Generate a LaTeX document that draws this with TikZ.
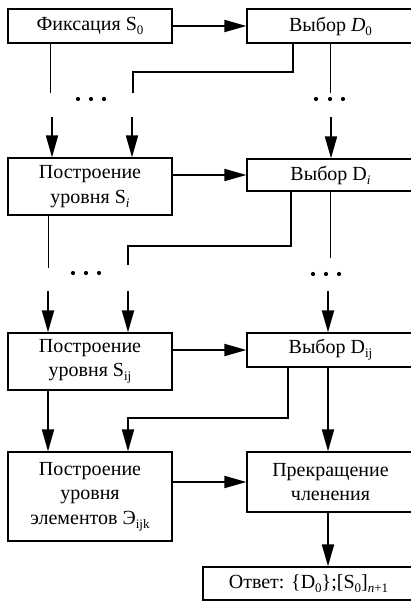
\documentclass[tikz,border=0pt]{standalone}
\usepackage{fontspec}
\setmainfont{Liberation Serif}
\usetikzlibrary{arrows.meta}

% lowered index in the text font
\newcommand\lowidx[1]{\raisebox{-0.45ex}{\fontsize{13}{13}\selectfont #1}}

\tikzset{
  box/.style={draw, line width=1.2pt, minimum width=164pt, inner sep=0pt,
              align=center, font=\fontsize{20}{24.5}\selectfont},
  rbox/.style={box, minimum width=167pt},
  arr/.style={line width=1.8pt, -{Triangle[length=22pt,width=12pt]}},
  link/.style={line width=1.8pt},
  fine/.style={line width=0.9pt},
}

\begin{document}
\begin{tikzpicture}[x=1pt, y=-1pt]
\useasboundingbox (0,0) rectangle (411,602);
\clip (0,0) rectangle (411,602);

% ---- boxes ----
\node[box, minimum height=34pt] (fix) at (90,26) {Фиксация S\lowidx{0}};
\node[rbox, minimum height=34pt] (d0) at (330.5,26) {Выбор \textit{D}\lowidx{0}};

\node[box, minimum height=57pt] (si) at (90,186.5) {Построение\\уровня S\lowidx{\textit{i}}};
\node[rbox, minimum height=32pt] (di) at (330.5,175) {Выбор D\lowidx{\textit{i}}};

\node[box, minimum height=57pt] (sij) at (90,361.5) {Построение\\уровня S\lowidx{ij}};
\node[rbox, minimum height=34pt] (dij) at (330.5,350) {Выбор D\lowidx{ij}};

\node[box, minimum height=89pt] (el) at (90,496.5) {Построение\\уровня\\элементов Э\lowidx{ijk}};
\node[rbox, minimum height=60pt] (stop) at (330.5,482) {Прекращение\\членения};

\node[box, minimum width=211pt, minimum height=33pt] (ans) at (308.5,583.5)
  {Ответ: \{D\lowidx{0}\};[S\lowidx{0}]\lowidx{\textit{n}+1}};

% ---- first level ----
\draw[arr] (fix.east) -- (d0.west);
\coordinate (t0l) at (50,93);
\coordinate (t0r) at (330,93);
\draw[fine] (fix.south -| t0l) -- (t0l);
\draw[fine] (d0.south -| t0r) -- (t0r);
\coordinate (k0) at (293,72);
\coordinate (e0) at (133,93);
\draw[link] (d0.south -| k0) -- (k0) -| (e0);
\foreach \x in {78,91,104} \fill (\x,99) circle (2.1pt);
\foreach \x in {316,330,343} \fill (\x,99) circle (2.1pt);

\coordinate (s1a) at (52,117);
\coordinate (s1b) at (132,117);
\coordinate (s1r) at (331,117);
\draw[arr] (s1a) -- (s1a |- si.north);
\draw[arr] (s1b) -- (s1b |- si.north);
\draw[arr] (s1r) -- (s1r |- di.north);

% ---- level i ----
\draw[arr] (di.west -| si.east) -- (di.west);
\coordinate (t1l) at (48,268);
\coordinate (t1r) at (330,258);
\draw[fine] (si.south -| t1l) -- (t1l);
\draw[fine] (di.south -| t1r) -- (t1r);
\coordinate (k1) at (291,246);
\coordinate (e1) at (128,265);
\draw[link] (di.south -| k1) -- (k1) -| (e1);
\foreach \x in {73,86,99} \fill (\x,273) circle (2.1pt);
\foreach \x in {313,326,339} \fill (\x,274) circle (2.1pt);

\coordinate (s2a) at (48,291);
\coordinate (s2b) at (128,291);
\coordinate (s2r) at (328,291);
\draw[arr] (s2a) -- (s2a |- sij.north);
\draw[arr] (s2b) -- (s2b |- sij.north);
\draw[arr] (s2r) -- (s2r |- dij.north);

% ---- level ij ----
\draw[arr] (dij.west -| sij.east) -- (dij.west);
\coordinate (cL) at (48,0);
\coordinate (cM) at (128,0);
\coordinate (cS) at (328,0);
\draw[arr] (sij.south -| cL) -- (el.north -| cL);
\coordinate (k2) at (288,418);
\draw[arr] (dij.south -| k2) -- (k2) -| (el.north -| cM);
\draw[arr] (dij.south -| cS) -- (stop.north -| cS);

% ---- last level ----
\draw[arr] (stop.west -| el.east) -- (stop.west);
\draw[arr] (stop.south -| cS) -- (ans.north -| cS);
\end{tikzpicture}
\end{document}
